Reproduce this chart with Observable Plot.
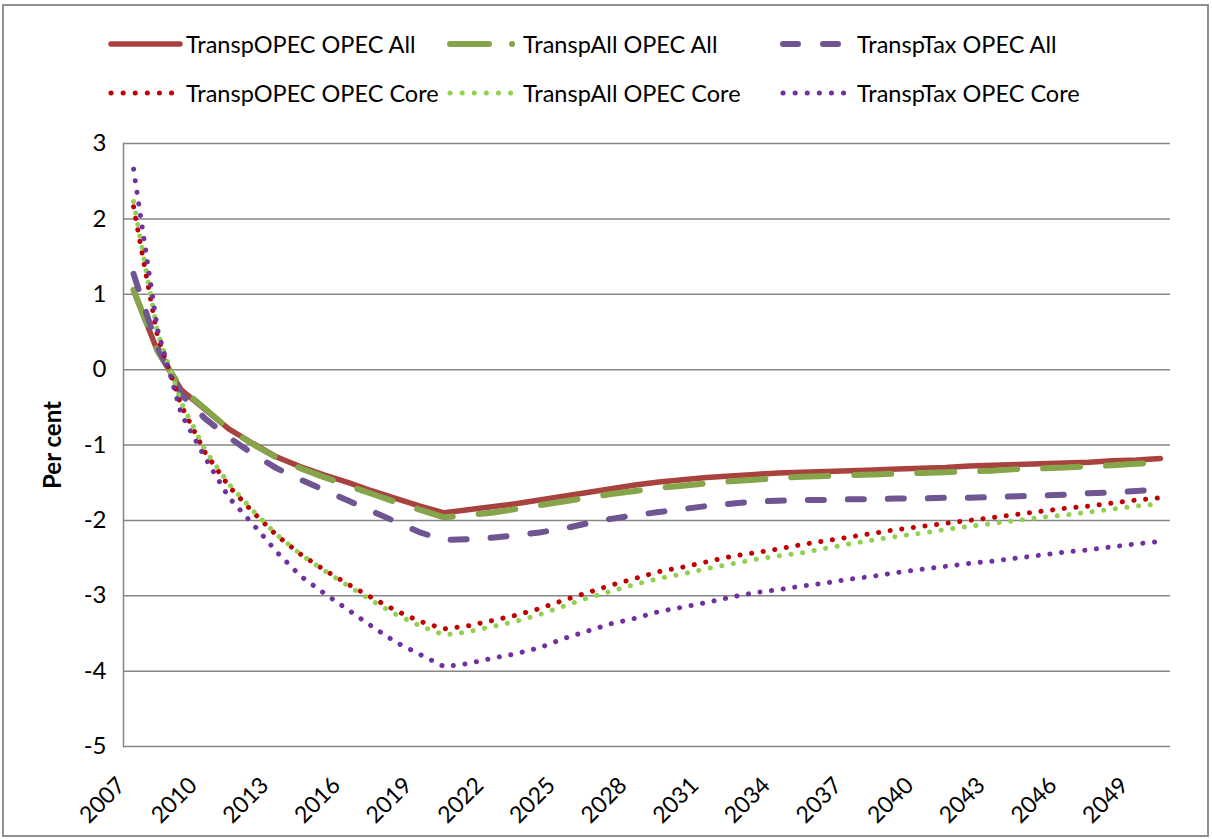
<!DOCTYPE html>
<html><head><meta charset="utf-8">
<script src="https://cdn.jsdelivr.net/npm/d3@7"></script>
<script src="https://cdn.jsdelivr.net/npm/@observablehq/plot@0.6"></script>
<style>
html,body{margin:0;padding:0;background:#fff;}
#wrap{position:relative;width:1212px;height:839px;overflow:hidden;font-family:Lato,sans-serif;background:#fff;}
#border{position:absolute;left:2px;top:4px;width:1207px;height:833px;border:2px solid #8f8f8f;box-sizing:border-box;pointer-events:none;}
#legend{position:absolute;left:0;top:0;width:1212px;height:120px;}
.item{position:absolute;height:30px;font-size:23.5px;color:#000;white-space:nowrap;}
.item svg{position:absolute;left:0;top:0;}
.item span{position:absolute;top:0;line-height:30px;}
#chart{position:absolute;left:0;top:120px;}
#chart svg [aria-label="y-axis label"] text, #chart svg [aria-label="y-axis label"]{font-weight:bold;}
</style>
</head><body>
<div id="wrap"><div id="legend"></div><div id="chart"></div><div id="border"></div></div>
<script>
const years = d3.range(2007, 2051);
const tickYears = d3.range(2007, 2050, 3);
const yTicks = d3.range(-5, 4);
const names = ["TranspOPEC OPEC All", "TranspAll OPEC All", "TranspTax OPEC All",
               "TranspOPEC OPEC Core", "TranspAll OPEC Core", "TranspTax OPEC Core"];

const transpOpecAll = [1.05,0.25,-0.27,-0.53,-0.79,-0.98,-1.16,-1.29,-1.40,-1.50,
  -1.61,-1.71,-1.81,-1.90,-1.86,-1.82,-1.78,-1.73,-1.68,-1.63,
  -1.58,-1.53,-1.49,-1.46,-1.43,-1.41,-1.39,-1.37,-1.36,-1.35,
  -1.34,-1.33,-1.32,-1.31,-1.30,-1.28,-1.27,-1.26,-1.25,-1.24,
  -1.23,-1.21,-1.20,-1.18];
const transpAllAll = [1.06,0.25,-0.25,-0.52,-0.79,-0.99,-1.17,-1.31,-1.43,-1.54,
  -1.65,-1.76,-1.86,-1.96,-1.93,-1.90,-1.85,-1.80,-1.75,-1.70,
  -1.65,-1.61,-1.57,-1.54,-1.51,-1.48,-1.46,-1.44,-1.42,-1.41,
  -1.40,-1.39,-1.38,-1.37,-1.36,-1.35,-1.34,-1.32,-1.31,-1.30,
  -1.28,-1.27,-1.25,-1.23];
const transpTaxAll = [1.27,0.30,-0.33,-0.65,-0.90,-1.12,-1.31,-1.46,-1.60,-1.74,
  -1.88,-2.02,-2.16,-2.26,-2.25,-2.23,-2.20,-2.16,-2.11,-2.04,
  -1.98,-1.93,-1.89,-1.85,-1.81,-1.78,-1.75,-1.74,-1.73,-1.73,
  -1.72,-1.72,-1.71,-1.71,-1.70,-1.70,-1.69,-1.68,-1.67,-1.66,
  -1.64,-1.63,-1.61,-1.59];
const transpOpecCore = [2.16,0.45,-0.48,-1.10,-1.55,-1.89,-2.20,-2.45,-2.66,-2.85,
  -3.03,-3.20,-3.34,-3.44,-3.40,-3.33,-3.26,-3.17,-3.06,-2.96,
  -2.86,-2.77,-2.68,-2.62,-2.55,-2.48,-2.43,-2.38,-2.32,-2.27,
  -2.22,-2.17,-2.12,-2.08,-2.04,-2.00,-1.96,-1.92,-1.88,-1.84,
  -1.81,-1.77,-1.73,-1.70];
const transpAllCore = [2.23,0.50,-0.44,-1.07,-1.52,-1.87,-2.19,-2.45,-2.67,-2.87,
  -3.07,-3.25,-3.40,-3.52,-3.48,-3.41,-3.34,-3.25,-3.14,-3.03,
  -2.94,-2.85,-2.77,-2.71,-2.64,-2.58,-2.52,-2.47,-2.43,-2.37,
  -2.31,-2.26,-2.21,-2.17,-2.12,-2.08,-2.04,-2.00,-1.96,-1.93,
  -1.89,-1.85,-1.81,-1.78];
const transpTaxCore = [2.66,0.54,-0.59,-1.17,-1.70,-2.05,-2.42,-2.74,-2.97,-3.19,
  -3.41,-3.62,-3.78,-3.94,-3.90,-3.83,-3.77,-3.69,-3.57,-3.47,
  -3.37,-3.30,-3.21,-3.15,-3.09,-3.02,-2.96,-2.92,-2.87,-2.83,
  -2.78,-2.74,-2.69,-2.65,-2.61,-2.57,-2.54,-2.50,-2.46,-2.42,
  -2.39,-2.35,-2.31,-2.28];

const colors = ["#A8423F", "#86A44A", "#6F5592", "#C00000", "#92D050", "#7030A0"];

const series = [
  {name: names[0], values: transpOpecAll, color: colors[0], width: 5.5, dash: null, legendDash: null},
  {name: names[1], values: transpAllAll, color: colors[1], width: 6, dash: "37,26", legendDash: "39,23,0.1,100"},
  {name: names[2], values: transpTaxAll, color: colors[2], width: 6, dash: "16,24", legendDash: "15,25,15,100"},
  {name: names[3], values: transpOpecCore, color: colors[3], width: 5, dash: "0.1,11.6", legendDash: "0.1,12"},
  {name: names[4], values: transpAllCore, color: colors[4], width: 5, dash: "0.1,11.6", legendDash: "0.1,12"},
  {name: names[5], values: transpTaxCore, color: colors[5], width: 5, dash: "0.1,11.6", legendDash: "0.1,12"}
];

const rows = series.flatMap(s => years.map((year, i) => ({series: s.name, year, value: s.values[i]})));

// Legend (HTML, above the plot)
const legendCols = [{sw: 108, tx: 186}, {sw: 447, tx: 523}, {sw: 780, tx: 857}];
const legendRows = [29, 78];
const legend = document.getElementById("legend");
series.forEach((s, i) => {
  const col = legendCols[i % 3], row = legendRows[Math.floor(i / 3)];
  const item = document.createElement("div");
  item.className = "item";
  item.style.left = col.sw + "px";
  item.style.top = row + "px";
  const w = col.tx - col.sw;
  const svg = d3.create("svg").attr("width", w).attr("height", 30);
  svg.append("line").attr("x1", 3).attr("x2", w - 6).attr("y1", 15).attr("y2", 15)
    .attr("stroke", s.color).attr("stroke-width", s.width)
    .attr("stroke-linecap", "round")
    .attr("stroke-dasharray", s.legendDash);
  item.appendChild(svg.node());
  const span = document.createElement("span");
  span.style.left = w + "px";
  span.textContent = s.name;
  item.appendChild(span);
  legend.appendChild(item);
});

const chart = Plot.plot({
  width: 1212, height: 719,
  marginLeft: 123, marginRight: 42, marginTop: 23, marginBottom: 93,
  style: {fontFamily: "Lato, sans-serif", fontSize: "24px", color: "#000", background: "transparent"},
  x: {type: "linear", domain: [2006.58, 2050.42]},
  y: {domain: [-5, 3]},
  marks: [
    Plot.gridY(yTicks, {stroke: "#868686", strokeOpacity: 1, strokeWidth: 1.5}),
    Plot.frame({anchor: "left", stroke: "#868686", strokeWidth: 1.5}),
    Plot.axisY(yTicks, {tickSize: 0, tickPadding: 17, fontSize: 24, tickFormat: d => String(d), label: "Per cent", labelAnchor: "center", labelArrow: "none", labelOffset: 80}),
    Plot.axisX(tickYears, {tickSize: 0, tickRotate: -45, tickPadding: 35, dx: -12, fontSize: 23, tickFormat: d => String(d), label: null}),
    ...series.map(s => Plot.line(rows.filter(r => r.series === s.name), {
      x: "year", y: "value", stroke: s.color, strokeWidth: s.width,
      strokeDasharray: s.dash, strokeLinecap: "round", strokeLinejoin: "round"
    }))
  ]
});
document.getElementById("chart").appendChild(chart);
</script>
</body></html>
